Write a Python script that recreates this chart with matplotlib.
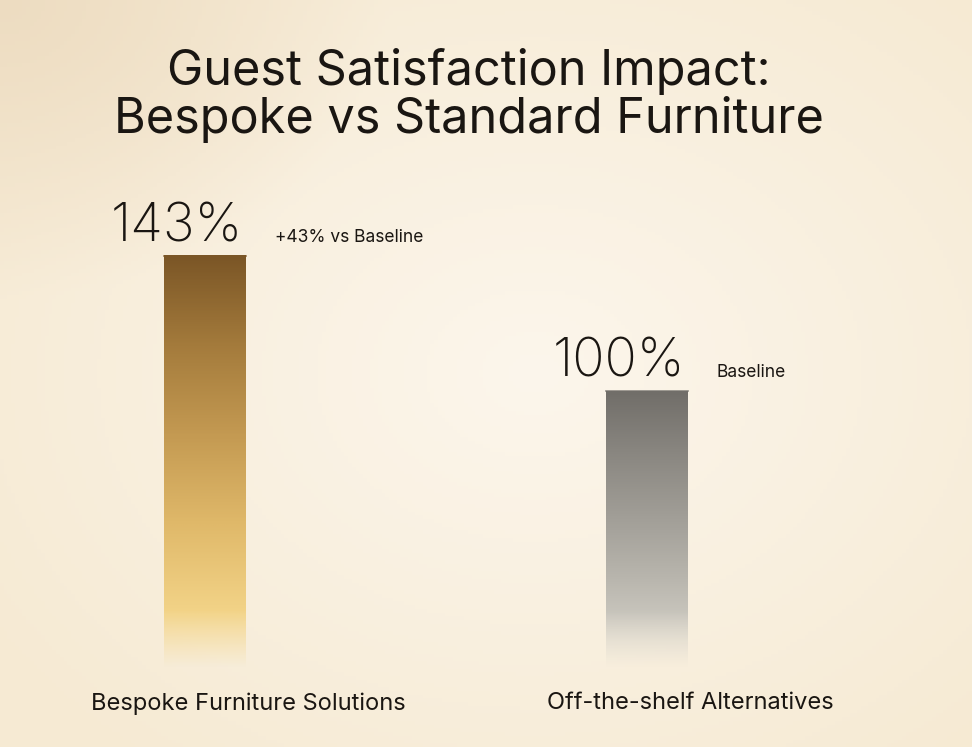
import numpy as np
import matplotlib.pyplot as plt
from matplotlib.colors import LinearSegmentedColormap, to_rgb

plt.rcParams['font.family'] = ['Inter', 'DejaVu Sans']

# data
categories = ['Bespoke Furniture Solutions', 'Off-the-shelf Alternatives']
values = [143, 100]
value_labels = ['143%', '100%']
notes = ['+43% vs Baseline', 'Baseline']
title = 'Guest Satisfaction Impact:\nBespoke vs Standard Furniture'

bar_colors = [
    ['#f9e0a0', '#f3d488', '#e0b96a', '#c49a52', '#a47b3c', '#7b5626'],
    ['#e6e3da', '#d3d0c7', '#b9b6ae', '#a19e97', '#8a8781', '#716e69'],
]

fig = plt.figure(figsize=(9.72, 7.47), dpi=100)

# background
bg = fig.add_axes([0, 0, 1, 1])
bg.set_axis_off()
yy, xx = np.mgrid[0:1:200j, 0:1:260j]
d = np.sqrt(((xx - 0.55) / 0.9) ** 2 + ((yy - 0.5) / 0.9) ** 2)
c_mid = np.array(to_rgb('#fcf6ec'))
c_edge = np.array(to_rgb('#f6ead3'))
c_tl = np.array(to_rgb('#eddcc1'))
t = np.clip(d / 0.75, 0, 1)[..., None]
img = c_mid * (1 - t) + c_edge * t
tl = np.clip(1 - np.sqrt(xx ** 2 + yy ** 2) / 0.4, 0, 1)[..., None]
img = img * (1 - tl) + c_tl * tl
bg.imshow(img, extent=[0, 1, 0, 1], aspect='auto', origin='upper')
bg.set_xlim(0, 1)
bg.set_ylim(0, 1)

ax = fig.add_axes([0, 0, 1, 1])
ax.set_axis_off()
ax.patch.set_alpha(0)
ax.set_xlim(-0.464, 1.735)
ax.set_ylim(-13.4, 224.5)

width = 0.185
fade_lo, fade_hi = 12, 30
for i, (v, cols) in enumerate(zip(values, bar_colors)):
    cmap = LinearSegmentedColormap.from_list('b%d' % i, cols)
    ys = np.linspace(0, v, 400)
    rgba = cmap(ys / v)
    rgba[:, 3] = np.clip((ys - fade_lo) / (fade_hi - fade_lo), 0, 1)
    rgba = rgba[::-1][:, None, :].repeat(2, axis=1)
    ax.imshow(rgba, extent=[i - width / 2, i + width / 2, 0, v],
              aspect='auto', interpolation='bilinear', zorder=2)
    ax.plot([i - width / 2, i + width / 2], [v, v], color=cols[-1],
            lw=1.2, zorder=3, alpha=0.8)
    ax.text(i + 0.085, v + 4.5, value_labels[i], ha='right', va='baseline',
            fontsize=38.5, fontweight='light', color='#1a1612', zorder=4)
    ax.text(i + 0.158, v + 4.5, notes[i], ha='left', va='baseline',
            fontsize=12.5, color='#1a1612', zorder=4)
    ax.text(i + 0.098, 0.5, categories[i], ha='center', va='center',
            fontsize=17, color='#1a1612', zorder=4)

fig.text(0.482, 0.822, title, ha='center', va='baseline', fontsize=35,
         linespacing=1.02, color='#1a1612')

fig.savefig('out.png', dpi=100)
